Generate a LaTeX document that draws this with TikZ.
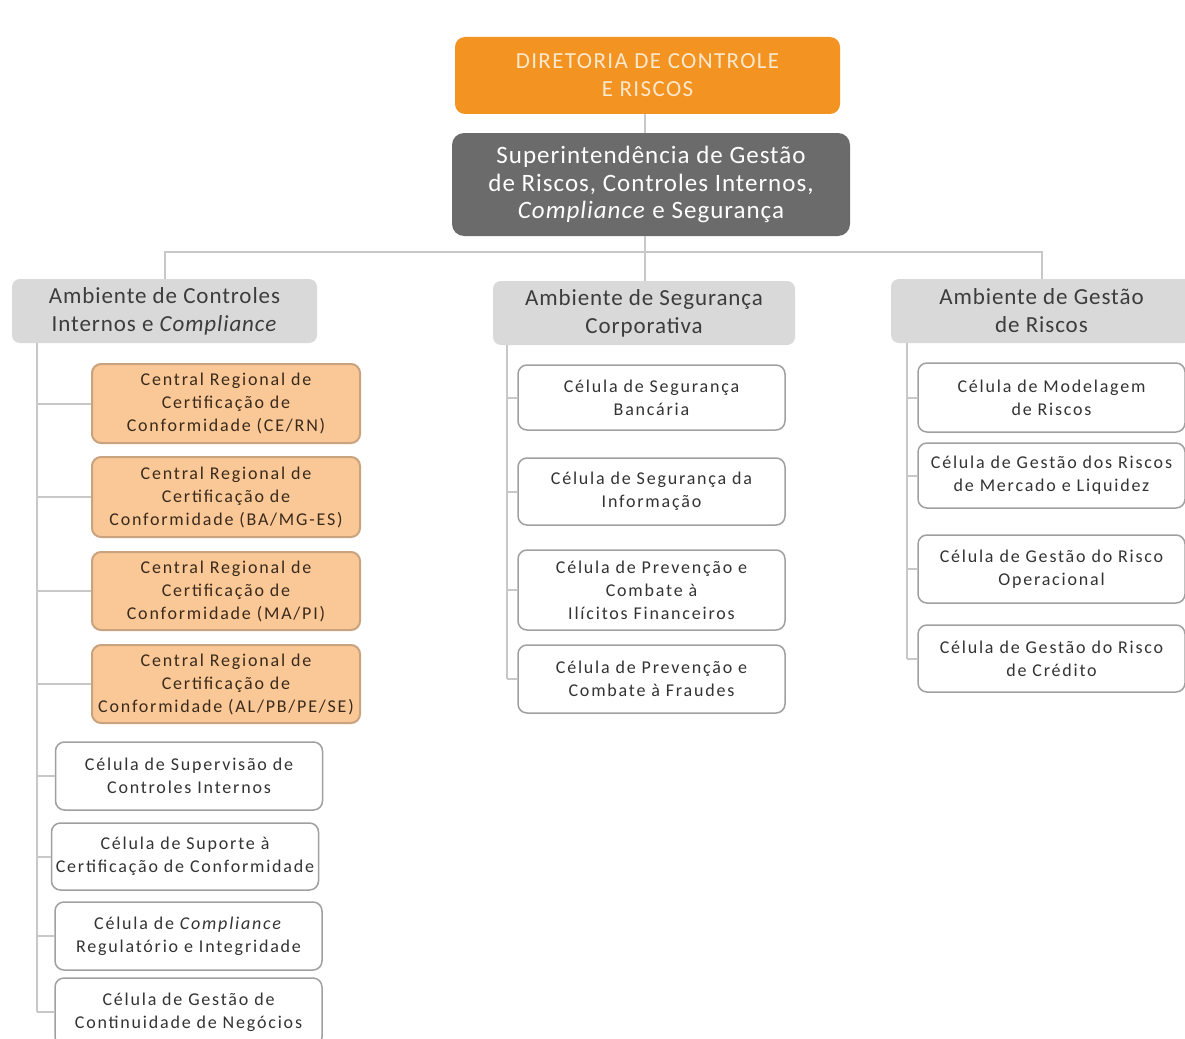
\documentclass[tikz,border=0pt]{standalone}
\usepackage{fontspec}
\setmainfont{Carlito}
\newfontfamily\cellfont[LetterSpace=10]{Carlito}
\newfontfamily\topfont[LetterSpace=6]{Carlito}
\newfontfamily\supfont[LetterSpace=4]{Carlito}
\newfontfamily\ambfont[LetterSpace=4]{Carlito}
\definecolor{topor}{HTML}{F39322}
\definecolor{toptxt}{HTML}{FCE8CC}
\definecolor{supgr}{HTML}{6B6B6B}
\definecolor{ambgr}{HTML}{D9D9D9}
\definecolor{ambtxt}{HTML}{3C3C3C}
\definecolor{celor}{HTML}{FAC896}
\definecolor{celorb}{HTML}{C9A27E}
\definecolor{celortxt}{HTML}{3A2A1C}
\definecolor{celwb}{HTML}{A0A0A0}
\definecolor{celwtxt}{HTML}{333333}
\definecolor{conncol}{HTML}{C8C8C8}
\begin{document}
\begin{tikzpicture}[x=1pt,y=-1pt,
  topbox/.style={fill=topor, rounded corners=10pt, text=toptxt, align=center,
    font=\topfont\fontsize{23}{28}\selectfont, inner sep=0pt},
  supbox/.style={fill=supgr, rounded corners=12pt, text=white, align=center,
    font=\supfont\fontsize{25}{27.5}\selectfont, inner sep=0pt},
  ambbox/.style={fill=ambgr, rounded corners=8pt, text=ambtxt, align=center,
    font=\ambfont\fontsize{23}{28}\selectfont, inner sep=0pt, minimum height=64pt},
  orbox/.style={fill=celor, draw=celorb, line width=2pt, rounded corners=9pt,
    text=celortxt, align=center, font=\cellfont\fontsize{18}{23}\selectfont,
    inner sep=0pt, minimum width=268pt},
  whbox/.style={fill=white, draw=celwb, line width=1.5pt, rounded corners=9pt,
    text=celwtxt, align=center, font=\cellfont\fontsize{18}{23}\selectfont,
    inner sep=0pt, minimum width=267pt},
  conn/.style={draw=conncol, line width=2pt}
]
\useasboundingbox (0,0) rectangle (1185,1038);
\clip (0,0) rectangle (1185,1038);
\fill[white] (0,0) rectangle (1185,1038);

% top
\node[topbox, minimum width=385pt, minimum height=77pt] (dir) at (647.5,75.5)
  {DIRETORIA DE CONTROLE\\E RISCOS};
\node[supbox, minimum width=398pt, minimum height=103pt] (sup) at (651,184.5)
  {Superintendência de Gestão\\de Riscos, Controles Internos,\\\textit{Compliance} e Segurança};

% ambients
\node[ambbox, minimum width=305pt] (ambL) at (164.5,311) {Ambiente de Controles\\Internos e \textit{Compliance}};
\node[ambbox, minimum width=302pt] (ambM) at (644,313) {Ambiente de Segurança\\Corporativa};
\node[ambbox, minimum width=301pt] (ambR) at (1041.5,311) {Ambiente de Gestão\\de Riscos};

% left column
\node[orbox, minimum height=79pt] (o1) at (226,403.5) {Central Regional de\\Certificação de\\Conformidade (CE/RN)};
\node[orbox, minimum height=80pt] (o2) at (226,497) {Central Regional de\\Certificação de\\Conformidade (BA/MG-ES)};
\node[orbox, minimum height=78pt] (o3) at (226,591) {Central Regional de\\Certificação de\\Conformidade (MA/PI)};
\node[orbox, minimum height=78pt] (o4) at (226,684) {Central Regional de\\Certificação de\\Conformidade (AL/PB/PE/SE)};
\node[whbox, minimum height=68pt] (w1) at (189,776) {Célula de Supervisão de\\Controles Internos};
\node[whbox, minimum height=67pt] (w2) at (185,856.5) {Célula de Suporte à\\Certificação de Conformidade};
\node[whbox, minimum height=68pt] (w3) at (188.5,936) {Célula de \textit{Compliance}\\Regulatório e Integridade};
\node[whbox, minimum height=68pt] (w4) at (188.5,1012) {Célula de Gestão de\\Continuidade de Negócios};

% middle column
\node[whbox, minimum height=65pt] (m1) at (651.5,397.5) {Célula de Segurança\\Bancária};
\node[whbox, minimum height=67pt] (m2) at (651.5,491.5) {Célula de Segurança da\\Informação};
\node[whbox, minimum height=80pt] (m3) at (651.5,590) {Célula de Prevenção e\\Combate à\\Ilícitos Financeiros};
\node[whbox, minimum height=68pt] (m4) at (651.5,679) {Célula de Prevenção e\\Combate à Fraudes};

% right column
\node[whbox, minimum height=69pt] (r1) at (1051.5,397.5) {Célula de Modelagem\\de Riscos};
\node[whbox, minimum height=65pt] (r2) at (1051.5,475.5) {Célula de Gestão dos Riscos\\de Mercado e Liquidez};
\node[whbox, minimum height=68pt] (r3) at (1051.5,569) {Célula de Gestão do Risco\\Operacional};
\node[whbox, minimum height=67pt] (r4) at (1051.5,658.5) {Célula de Gestão do Risco\\de Crédito};

% connectors
\coordinate (bus) at (645,252);
\draw[conn] (dir.south -| bus) -- (sup.north -| bus);
\draw[conn] (sup.south -| bus) -- (ambM.north -| bus);
\draw[conn] (ambL.north) |- (bus) -| (ambR.north);

\coordinate (tL) at (37,343);
\coordinate (tM) at (507,345);
\coordinate (tR) at (907,343);
\draw[conn] (tL) -- (tL |- w4.west);
\draw[conn] (tM) -- (tM |- m4.west);
\draw[conn] (tR) -- (tR |- r4.west);
\foreach \n in {o1,o2,o3,o4,w1,w2,w3,w4}{\draw[conn] (\n.west) -- (\n.west -| tL);}
\foreach \n in {m1,m2,m3,m4}{\draw[conn] (\n.west) -- (\n.west -| tM);}
\foreach \n in {r1,r2,r3,r4}{\draw[conn] (\n.west) -- (\n.west -| tR);}
\end{tikzpicture}
\end{document}
